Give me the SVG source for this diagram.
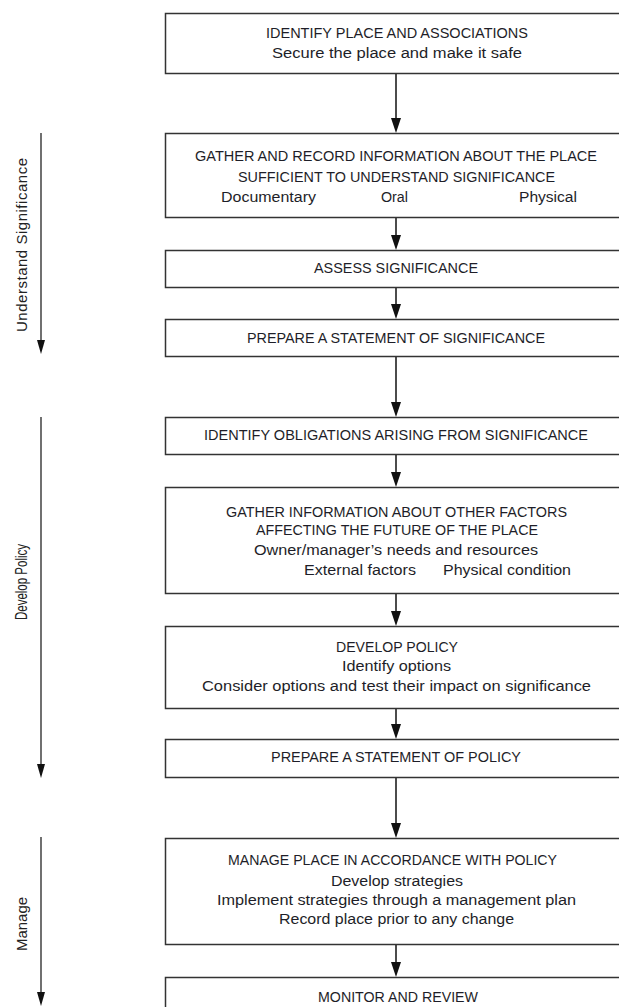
<svg xmlns="http://www.w3.org/2000/svg" width="619" height="1007" viewBox="0 0 619 1007">
<style>
.box{fill:#fff;stroke:#333;stroke-width:1.5}
.t{font-family:"Liberation Sans",Arial,sans-serif;font-size:14px;fill:#1e1e28;text-anchor:middle}
.s{font-family:"Liberation Sans",Arial,sans-serif;font-size:15px;fill:#222;text-anchor:middle}
.c{stroke:#111;stroke-width:1.5;fill:none}
.sc{stroke:#111;stroke-width:1.2;fill:none}
.ah{fill:#111}
</style>
<rect width="619" height="1007" fill="#fff"/>
<g id="connectors">
<line class="c" x1="396" y1="73" x2="396" y2="120"/>
<path class="ah" d="M391,118 L401,118 L396,133 Z"/>
<line class="c" x1="396" y1="217" x2="396" y2="237"/>
<path class="ah" d="M391,235 L401,235 L396,250 Z"/>
<line class="c" x1="396" y1="287" x2="396" y2="306"/>
<path class="ah" d="M391,304 L401,304 L396,319 Z"/>
<line class="c" x1="396" y1="356" x2="396" y2="404"/>
<path class="ah" d="M391,402 L401,402 L396,417 Z"/>
<line class="c" x1="396" y1="454" x2="396" y2="474"/>
<path class="ah" d="M391,472 L401,472 L396,487 Z"/>
<line class="c" x1="396" y1="593" x2="396" y2="613"/>
<path class="ah" d="M391,611 L401,611 L396,626 Z"/>
<line class="c" x1="396" y1="708" x2="396" y2="726"/>
<path class="ah" d="M391,724 L401,724 L396,739 Z"/>
<line class="c" x1="396" y1="777" x2="396" y2="825"/>
<path class="ah" d="M391,823 L401,823 L396,838 Z"/>
<line class="c" x1="396" y1="944" x2="396" y2="964"/>
<path class="ah" d="M391,962 L401,962 L396,977 Z"/>
<line class="sc" x1="41" y1="133" x2="41" y2="342"/>
<path class="ah" d="M37,340 L45,340 L41,354 Z"/>
<line class="sc" x1="41" y1="417" x2="41" y2="766"/>
<path class="ah" d="M37,764 L45,764 L41,778 Z"/>
<line class="sc" x1="41" y1="837" x2="41" y2="994"/>
<path class="ah" d="M37,992 L45,992 L41,1006 Z"/>
</g>
<g id="label-understand">
<text class="s" transform="translate(27,245) rotate(-90)" textLength="174" lengthAdjust="spacing">Understand Significance</text>
</g>
<g id="label-develop" transform="translate(27,582) rotate(-90)">
<text class="s" style="font-size:16px" transform="scale(0.72,1)">Develop Policy</text>
</g>
<g id="label-manage">
<text class="s" transform="translate(27,924) rotate(-90)">Manage</text>
</g>
<g id="n1">
<rect class="box" x="165.5" y="13.5" width="470" height="60"/>
<text class="t" x="397" y="38" textLength="262" lengthAdjust="spacingAndGlyphs">IDENTIFY PLACE AND ASSOCIATIONS</text>
<text class="t" x="397" y="58" textLength="250" lengthAdjust="spacingAndGlyphs">Secure the place and make it safe</text>
</g>
<g id="n2">
<rect class="box" x="165.5" y="133.5" width="470" height="84"/>
<text class="t" x="396" y="161" textLength="402" lengthAdjust="spacingAndGlyphs">GATHER AND RECORD INFORMATION ABOUT THE PLACE</text>
<text class="t" x="396.5" y="182" textLength="317" lengthAdjust="spacingAndGlyphs">SUFFICIENT TO UNDERSTAND SIGNIFICANCE</text>
<text class="t" x="268.5" y="202" textLength="95" lengthAdjust="spacingAndGlyphs">Documentary</text>
<text class="t" x="394.5" y="202" textLength="27" lengthAdjust="spacingAndGlyphs">Oral</text>
<text class="t" x="548" y="202" textLength="58" lengthAdjust="spacingAndGlyphs">Physical</text>
</g>
<g id="n3">
<rect class="box" x="165.5" y="250.5" width="470" height="37"/>
<text class="t" x="396" y="273" textLength="164" lengthAdjust="spacingAndGlyphs">ASSESS SIGNIFICANCE</text>
</g>
<g id="n4">
<rect class="box" x="165.5" y="319.5" width="470" height="37"/>
<text class="t" x="396" y="343" textLength="298" lengthAdjust="spacingAndGlyphs">PREPARE A STATEMENT OF SIGNIFICANCE</text>
</g>
<g id="n5">
<rect class="box" x="165.5" y="417.5" width="470" height="37"/>
<text class="t" x="396" y="440" textLength="384" lengthAdjust="spacingAndGlyphs">IDENTIFY OBLIGATIONS ARISING FROM SIGNIFICANCE</text>
</g>
<g id="n6">
<rect class="box" x="165.5" y="487.5" width="470" height="106"/>
<text class="t" x="396.5" y="517" textLength="341" lengthAdjust="spacingAndGlyphs">GATHER INFORMATION ABOUT OTHER FACTORS</text>
<text class="t" x="397" y="535" textLength="282" lengthAdjust="spacingAndGlyphs">AFFECTING THE FUTURE OF THE PLACE</text>
<text class="t" x="396" y="555" textLength="284" lengthAdjust="spacingAndGlyphs">Owner/manager’s needs and resources</text>
<text class="t" x="360" y="575" textLength="112" lengthAdjust="spacingAndGlyphs">External factors</text>
<text class="t" x="507" y="575" textLength="128" lengthAdjust="spacingAndGlyphs">Physical condition</text>
</g>
<g id="n7">
<rect class="box" x="165.5" y="626.5" width="470" height="82"/>
<text class="t" x="397" y="652" textLength="122" lengthAdjust="spacingAndGlyphs">DEVELOP POLICY</text>
<text class="t" x="396.5" y="671" textLength="109" lengthAdjust="spacingAndGlyphs">Identify options</text>
<text class="t" x="396.5" y="691" textLength="389" lengthAdjust="spacingAndGlyphs">Consider options and test their impact on significance</text>
</g>
<g id="n8">
<rect class="box" x="165.5" y="739.5" width="470" height="38"/>
<text class="t" x="396" y="762" textLength="250" lengthAdjust="spacingAndGlyphs">PREPARE A STATEMENT OF POLICY</text>
</g>
<g id="n9">
<rect class="box" x="165.5" y="838.5" width="470" height="106"/>
<text class="t" x="392.5" y="865" textLength="329" lengthAdjust="spacingAndGlyphs">MANAGE PLACE IN ACCORDANCE WITH POLICY</text>
<text class="t" x="397" y="886" textLength="132" lengthAdjust="spacingAndGlyphs">Develop strategies</text>
<text class="t" x="396.5" y="905" textLength="359" lengthAdjust="spacingAndGlyphs">Implement strategies through a management plan</text>
<text class="t" x="396.5" y="924" textLength="235" lengthAdjust="spacingAndGlyphs">Record place prior to any change</text>
</g>
<g id="n10">
<rect class="box" x="165.5" y="977.5" width="470" height="60"/>
<text class="t" x="398" y="1002" textLength="160" lengthAdjust="spacingAndGlyphs">MONITOR AND REVIEW</text>
</g>
</svg>
